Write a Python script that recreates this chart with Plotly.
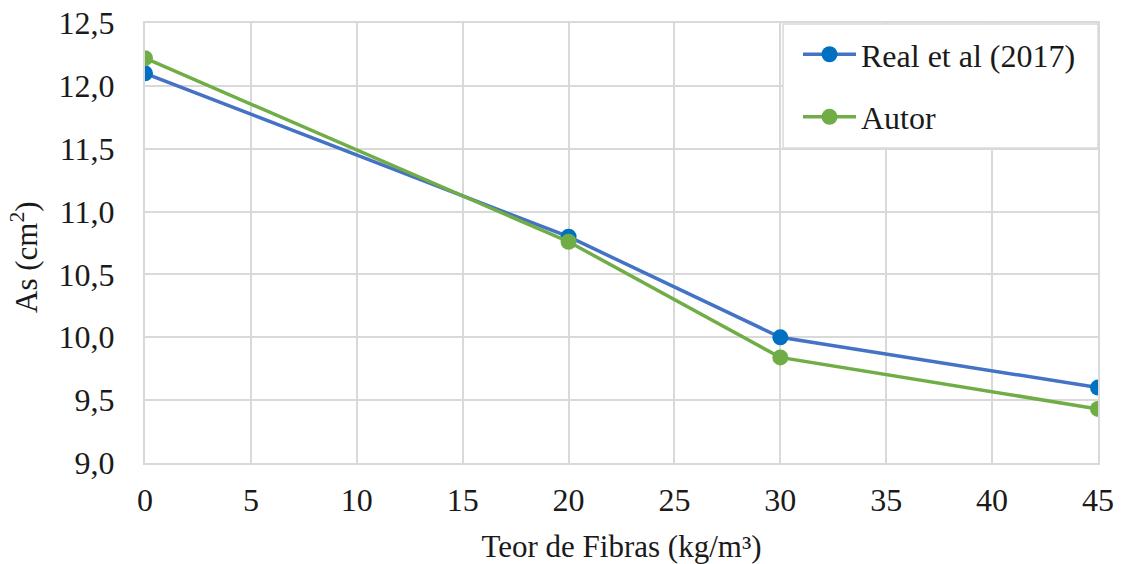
import plotly.graph_objects as go

x_vals = [0, 20, 30, 45]
real_vals = [12.10, 10.80, 10.00, 9.60]
autor_vals = [12.22, 10.76, 9.84, 9.43]
x_ticks = [0, 5, 10, 15, 20, 25, 30, 35, 40, 45]

ff = "Liberation Serif"
txt = "#1a1a1a"

fig = go.Figure()
fig.add_trace(go.Scatter(
    x=x_vals, y=real_vals, name="Real et al (2017)", mode="lines+markers",
    legendgroup="a",
    line=dict(color="#4472C4", width=3.5),
    marker=dict(color="#0070C0", size=16),
))
fig.add_trace(go.Scatter(
    x=x_vals, y=autor_vals, name="Autor", mode="lines+markers",
    legendgroup="b",
    line=dict(color="#70AD47", width=3.5),
    marker=dict(color="#70AD47", size=16),
))

# legend frame
fig.add_shape(type="rect", xref="paper", yref="paper",
              x0=0.6695, x1=1.0, y0=0.716, y1=0.9977,
              fillcolor="white", line=dict(color="#d9d9d9", width=1.5), layer="above")

fig.add_annotation(text="As (cm<sup>2</sup>)", xref="paper", yref="paper",
                   x=-(145 - 24) / 953, y=(463 - 257) / 440, xanchor="center", yanchor="middle",
                   textangle=-90, showarrow=False, font=dict(size=31, family=ff, color=txt))

fig.update_layout(
    width=1123, height=564,
    margin=dict(l=145, r=25, t=23, b=101),
    paper_bgcolor="white", plot_bgcolor="white",
    separators=", ",
    font=dict(family=ff, size=32, color=txt),
    legend=dict(
        x=(798 - 145) / 953, y=0.991, xanchor="left", yanchor="top",
        bgcolor="rgba(0,0,0,0)", borderwidth=0,
        font=dict(size=32, family=ff, color=txt),
        tracegroupgap=18, traceorder="grouped", itemwidth=53,
    ),
    xaxis=dict(
        range=[0, 45], tickvals=x_ticks, showgrid=True, gridcolor="#d9d9d9", gridwidth=2,
        zeroline=False, showline=True, linecolor="#d9d9d9", linewidth=2, mirror=True,
        ticks="outside", ticklen=8, tickcolor="rgba(0,0,0,0)",
        title=dict(text="Teor de Fibras (kg/m³)", font=dict(size=31, family=ff, color=txt), standoff=19),
        tickfont=dict(size=32, family=ff, color=txt), automargin=False,
    ),
    yaxis=dict(
        range=[9.0, 12.5], dtick=0.5, tickformat=".1f", showgrid=True, gridcolor="#d9d9d9", gridwidth=2,
        zeroline=False, showline=True, linecolor="#d9d9d9", linewidth=2, mirror=True,
        ticks="outside", ticklen=22, tickcolor="rgba(0,0,0,0)",
        tickfont=dict(size=32, family=ff, color=txt), automargin=False,
    ),
)

fig.write_html("out.html")
